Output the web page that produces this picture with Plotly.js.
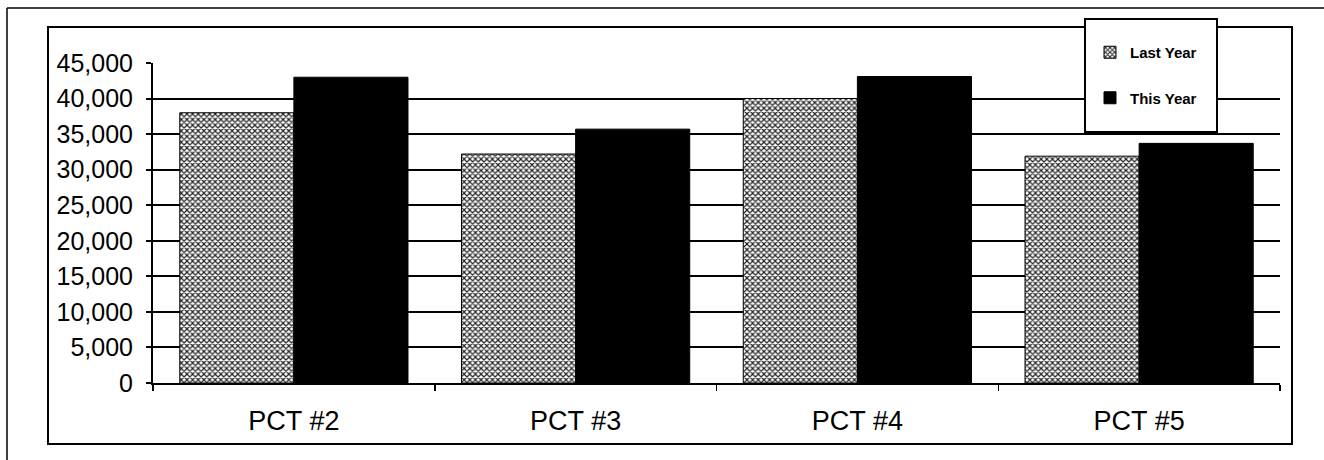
<!DOCTYPE html>
<html>
<head>
<meta charset="utf-8">
<script src="https://cdn.plot.ly/plotly-3.0.1.min.js"></script>
<style>
  html, body { margin: 0; padding: 0; background: #fff; }
  #chart { width: 1324px; height: 460px; }
</style>
</head>
<body>
<div id="chart"></div>
<script>
const categories = ["PCT #2", "PCT #3", "PCT #4", "PCT #5"];
const lastYear = [38000, 32200, 40000, 31900];
const thisYear = [43000, 35700, 43100, 33700];
const seriesNames = ["Last Year", "This Year"];
const yTicks = [0, 5000, 10000, 15000, 20000, 25000, 30000, 35000, 40000, 45000];

const W = 1324, H = 460;
const M = { l: 153, r: 44, t: 63, b: 77 };
const PW = W - M.l - M.r, PH = H - M.t - M.b;
const px = x => (x - M.l) / PW;
const py = y => (H - M.b - y) / PH;

const font = "Liberation Sans, Arial, Helvetica, sans-serif";

const traces = [
  {
    type: "bar", name: seriesNames[0], x: categories, y: lastYear,
    legendgroup: "a",
    marker: {
      color: "#ffffff",
      line: { color: "#000", width: 1 },
      pattern: { shape: "x", fgcolor: "#222", bgcolor: "#ffffff", size: 4, solidity: 0.5 }
    }
  },
  {
    type: "bar", name: seriesNames[1], x: categories, y: thisYear,
    legendgroup: "b",
    marker: { color: "#000000", line: { color: "#000", width: 1 } }
  }
];

const layout = {
  width: W, height: H,
  margin: M,
  paper_bgcolor: "#fff", plot_bgcolor: "#fff",
  barmode: "group", bargap: 0.19, bargroupgap: 0,
  font: { family: font, color: "#000" },
  showlegend: true,
  legend: {
    x: px(1090), y: py(36), xanchor: "left", yanchor: "top",
    bgcolor: "rgba(0,0,0,0)", borderwidth: 0,
    font: { family: font, size: 15, color: "#000", weight: "bold" },
    tracegroupgap: 23,
    itemwidth: 30
  },
  xaxis: {
    type: "category",
    showline: true, linecolor: "#000", linewidth: 2,
    ticks: "outside", tickson: "boundaries", ticklen: 6, tickcolor: "#000", tickwidth: 1.5,
    tickfont: { family: font, size: 27, color: "#000" },
    ticklabelstandoff: 13,
    showgrid: false, zeroline: false, mirror: false
  },
  yaxis: {
    range: [0, 45000],
    tickvals: yTicks,
    ticktext: yTicks.map(v => v.toLocaleString("en-US")),
    showline: true, linecolor: "#000", linewidth: 2,
    ticks: "outside", ticklen: 5, tickcolor: "#000", tickwidth: 2,
    showgrid: true, gridcolor: "#000", gridwidth: 2,
    zeroline: false,
    tickfont: { family: font, size: 25, color: "#000" },
    ticklabelstandoff: 8
  },
  shapes: [
    // outer frame (left and top)
    { type: "line", xref: "paper", yref: "paper", x0: px(7), x1: px(7), y0: py(8), y1: py(460), line: { color: "#000", width: 1.5 } },
    { type: "line", xref: "paper", yref: "paper", x0: px(7), x1: px(1324), y0: py(8), y1: py(8), line: { color: "#000", width: 1.5 } },
    // inner frame
    { type: "rect", xref: "paper", yref: "paper", x0: px(48), x1: px(1292), y0: py(27), y1: py(444), line: { color: "#000", width: 2 }, layer: "below" },
    // legend box
    { type: "rect", xref: "paper", yref: "paper", x0: px(1085), x1: px(1217), y0: py(19), y1: py(132), fillcolor: "#fff", line: { color: "#000", width: 2 }, layer: "above" }
  ]
};

Plotly.newPlot("chart", traces, layout, { staticPlot: true, displayModeBar: false });
</script>
</body>
</html>
